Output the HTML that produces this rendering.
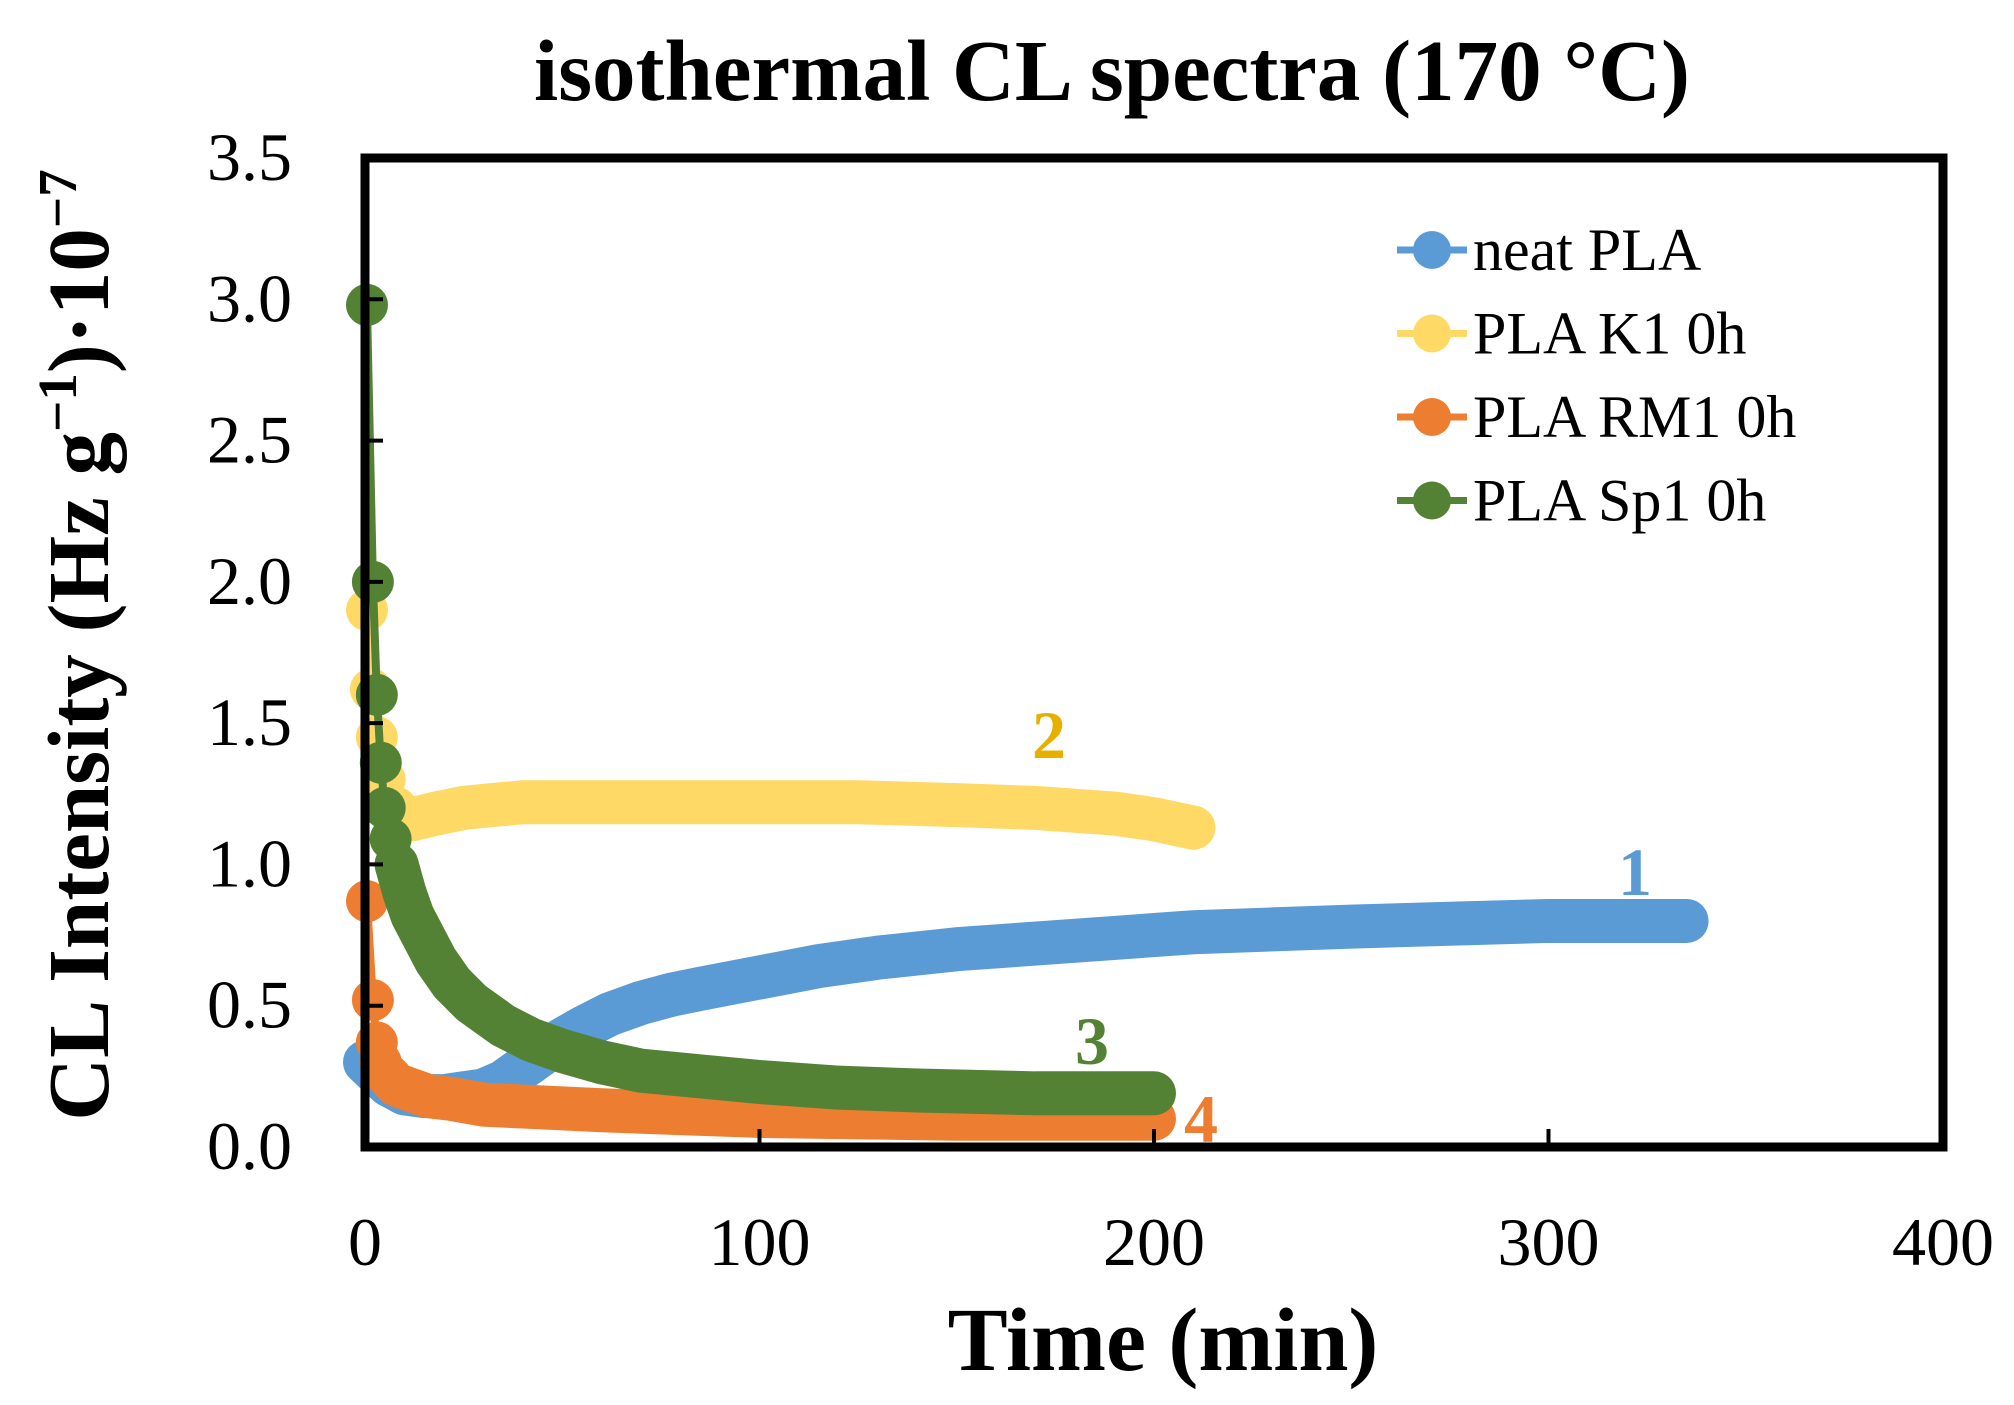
<!DOCTYPE html>
<html><head><meta charset="utf-8"><style>
html,body{margin:0;padding:0;background:#fff;}
svg{display:block;font-family:"Liberation Serif",serif;}
</style></head><body>
<svg id="chart" width="2014" height="1405" viewBox="0 0 2014 1405" xmlns="http://www.w3.org/2000/svg">
<text x="1112" y="100" font-size="87" font-weight="bold" text-anchor="middle">isothermal CL spectra (170 °C)</text>
<g id="marks"></g>
<rect x="365" y="158" width="1578" height="989" fill="none" stroke="#000" stroke-width="9"/>
<g id="axes"></g>
<text x="1163" y="1370" font-size="90" font-weight="bold" text-anchor="middle">Time (min)</text>
<text transform="translate(108,645) rotate(-90)" font-size="87" font-weight="bold" text-anchor="middle">CL Intensity (Hz g<tspan font-size="55" dy="-32">−1</tspan><tspan dy="32">)·10</tspan><tspan font-size="55" dy="-32">−7</tspan></text>
<g id="legend"></g>
<text x="1635" y="895" font-size="68" font-weight="bold" fill="#5B9BD5" text-anchor="middle">1</text>
<text x="1049" y="758" font-size="68" font-weight="bold" fill="#E6B000" text-anchor="middle">2</text>
<text x="1092" y="1064" font-size="68" font-weight="bold" fill="#548235" text-anchor="middle">3</text>
<text x="1201" y="1142" font-size="68" font-weight="bold" fill="#ED7D31" text-anchor="middle">4</text>
</svg>
<script>
const xTicks=[0,100,200,300,400];
const yTicks=[0,0.5,1.0,1.5,2.0,2.5,3.0,3.5];
const seriesNames=["neat PLA","PLA K1 0h","PLA RM1 0h","PLA Sp1 0h"];
const seriesColors=["#5B9BD5","#FFD966","#ED7D31","#548235"];
const neatT=[0,3,6,10,15,20,25,30,35,40,45,50,55,62,70,78,85,100,115,130,150,170,190,210,230,250,275,300,320,335];
const neatV=[0.3,0.26,0.22,0.19,0.18,0.18,0.19,0.2,0.23,0.28,0.33,0.38,0.42,0.47,0.51,0.54,0.56,0.6,0.64,0.67,0.7,0.72,0.74,0.76,0.77,0.78,0.79,0.8,0.8,0.8];
const k1T=[0.5,1.5,3,5,8,12,18,25,32,40,60,80,100,125,150,170,190,200,210];
const k1V=[1.9,1.62,1.45,1.3,1.2,1.16,1.18,1.2,1.21,1.22,1.22,1.22,1.22,1.22,1.21,1.2,1.18,1.16,1.13];
const rmT=[0.5,2,3,4,6,8,12,16,22,30,45,60,80,100,125,150,175,200];
const rmV=[0.87,0.52,0.37,0.3,0.25,0.22,0.2,0.18,0.17,0.15,0.14,0.13,0.12,0.11,0.105,0.1,0.1,0.1];
const spT=[0.5,2,3,4,5,6.5,8,10,12,15,18,22,27,35,42,50,60,70,85,100,120,140,170,200];
const spV=[2.98,2.0,1.6,1.36,1.2,1.09,1.0,0.9,0.82,0.74,0.66,0.58,0.51,0.43,0.38,0.34,0.3,0.27,0.25,0.23,0.21,0.2,0.19,0.19];
const allT=[neatT,k1T,rmT,spT], allV=[neatV,k1V,rmV,spV];
const denseFrom=[0,5,4,6];
const L=365,R=1943,T=158,B=1147;
const sx=t=>L+(t-0)/400*(R-L);
const sy=v=>B-v/3.5*(B-T);
const NS="http://www.w3.org/2000/svg";
function mk(tag,attrs,parent){const e=document.createElementNS(NS,tag);for(const k in attrs)e.setAttribute(k,attrs[k]);parent.appendChild(e);return e;}
const marks=document.getElementById('marks'), axes=document.getElementById('axes'), legend=document.getElementById('legend');
allT.forEach((ts,i)=>{
  const g=mk('g',{},marks);
  
  
  const pts=ts.map((t,j)=>sx(t)+','+sy(allV[i][j])).join(' ');
  const ln=mk('polyline',{points:pts,fill:'none',stroke:seriesColors[i],'stroke-width':8,'stroke-linejoin':'round'},g);
  
  
  const d=denseFrom[i];
  const bp=ts.slice(d).map((t,j)=>sx(t)+','+sy(allV[i][j+d])).join(' ');
  const band=mk('polyline',{points:bp,fill:'none',stroke:seriesColors[i],'stroke-width':44,'stroke-linejoin':'round','stroke-linecap':'round'},g);
  
  
  ts.slice(0,d+1).forEach((t,j)=>{
    const c=mk('circle',{cx:sx(t),cy:sy(allV[i][j]),r:21,fill:seriesColors[i]},g);
    
    
  });
});
yTicks.forEach(v=>{
  if(v>0&&v<3.5){const tk=mk('line',{x1:L,x2:L+18,y1:sy(v),y2:sy(v),stroke:'#000','stroke-width':4},axes);
  }
  const tx=mk('text',{x:292,y:sy(v)+22,'font-size':68,'text-anchor':'end'},axes);
  
  
  tx.textContent=v.toFixed(1);
});
xTicks.forEach(v=>{
  if(v>0&&v<400){const tk=mk('line',{x1:sx(v),x2:sx(v),y1:B,y2:B-18,stroke:'#000','stroke-width':4},axes);
  }
  const tx=mk('text',{x:sx(v),y:1265,'font-size':68,'text-anchor':'middle'},axes);
  
  
  tx.textContent=v;
});
seriesNames.forEach((n,i)=>{
  const y=250+i*83.5;
  const g=mk('g',{},legend);
  
  
  mk('line',{x1:1397,x2:1467,y1:y,y2:y,stroke:seriesColors[i],'stroke-width':7},g);
  mk('circle',{cx:1432,cy:y,r:19,fill:seriesColors[i]},g);
  const tx=mk('text',{x:1473,y:y+20,'font-size':60},g);
  tx.textContent=n;
});
</script>
</body></html>
